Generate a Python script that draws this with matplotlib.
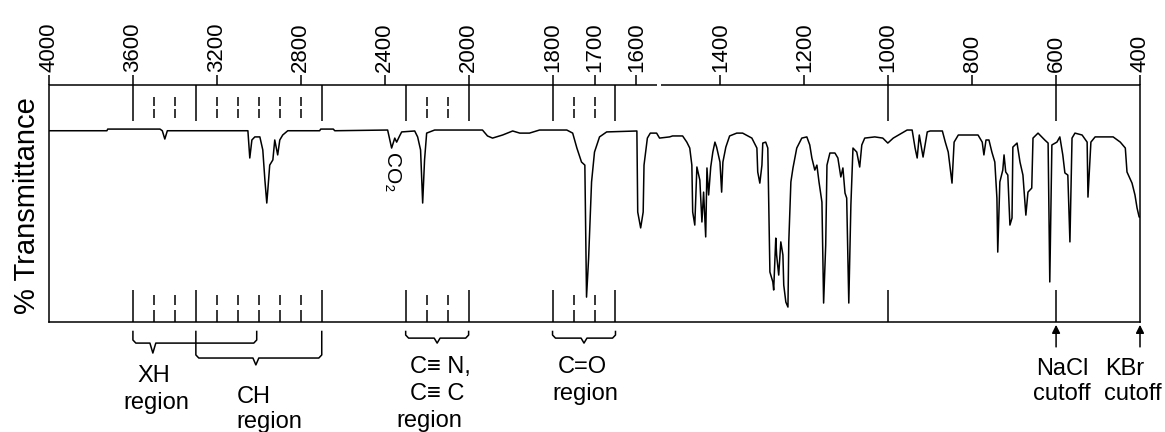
import numpy as np
import matplotlib
matplotlib.use('Agg')
from matplotlib import pyplot as plt

plt.rcParams['font.family'] = ['Liberation Sans', 'DejaVu Sans']

# spectrum: wavenumber (cm-1) and % transmittance
wavenumber = [4000, 3724, 3720, 3471, 3460, 3448, 3436, 3057, 3052, 3043, 3033, 3019, 2995, 2981,
              2971, 2962, 2957, 2948, 2933, 2924, 2910, 2900, 2886, 2862, 2710, 2705, 2645, 2638,
              2386, 2367, 2352, 2343, 2329, 2319, 2257, 2243, 2229, 2219, 2210, 2200, 2162, 1967,
              1955, 1943, 1919, 1895, 1878, 1855, 1831, 1766, 1752, 1742, 1731, 1723, 1719, 1714,
              1707, 1700, 1688, 1671, 1599, 1597, 1590, 1584, 1582, 1574, 1567, 1552, 1545, 1521,
              1514, 1490, 1480, 1473, 1468, 1466, 1461, 1456, 1449, 1444, 1440, 1435, 1432, 1428,
              1423, 1418, 1413, 1409, 1401, 1397, 1394, 1387, 1378, 1361, 1347, 1325, 1313, 1311,
              1306, 1301, 1299, 1292, 1287, 1282, 1275, 1273, 1268, 1266, 1261, 1256, 1251, 1249,
              1244, 1239, 1237, 1232, 1227, 1218, 1206, 1194, 1187, 1182, 1175, 1170, 1165, 1158,
              1154, 1149, 1146, 1139, 1127, 1120, 1113, 1108, 1103, 1099, 1094, 1089, 1084, 1075,
              1068, 1063, 1056, 1032, 1013, 1001, 988, 955, 943, 936, 931, 926, 919, 917, 907, 900,
              871, 864, 857, 848, 843, 833, 786, 776, 772, 767, 760, 753, 746, 741, 739, 734, 727,
              724, 720, 715, 710, 705, 703, 693, 686, 679, 672, 667, 658, 655, 643, 627, 619, 615,
              610, 598, 591, 584, 579, 572, 567, 562, 555, 538, 526, 524, 517, 507, 464, 447, 435,
              431, 419, 412, 407, 402, 400]
transmittance = [80.7, 80.7, 81.4, 81.4, 80.7, 77.2, 80.7, 80.7, 80.7, 69.2, 76.8, 78.1, 78.1, 72.6,
                 59.9, 50.2, 55.7, 66.2, 68.4, 76.8, 70.5, 76.8, 78.9, 80.7, 80.7, 81.4, 81.4, 80.7,
                 81.0, 73.4, 77.6, 75.9, 78.5, 80.2, 80.6, 78.1, 72.6, 50.2, 68.4, 79.7, 81.0, 81.0,
                 78.5, 77.6, 78.9, 80.6, 79.7, 79.7, 81.0, 81.0, 79.7, 73.4, 67.5, 66.2, 10.5, 27.0,
                 59.1, 71.7, 78.1, 80.2, 80.6, 46.4, 39.7, 46.4, 66.2, 77.6, 79.7, 79.7, 77.6, 78.1,
                 78.5, 78.5, 75.9, 73.4, 66.2, 46.4, 40.9, 65.4, 59.9, 42.2, 54.8, 35.9, 65.0, 53.6,
                 65.4, 71.7, 75.9, 73.8, 67.5, 54.8, 67.5, 73.8, 78.5, 79.7, 79.7, 77.6, 73.4, 63.3,
                 58.6, 66.2, 75.5, 75.9, 73.4, 21.1, 16.9, 13.5, 35.4, 28.3, 19.8, 33.8, 28.3, 15.6,
                 8.4, 6.3, 33.8, 59.1, 65.0, 73.4, 77.6, 78.1, 74.7, 69.2, 64.1, 66.2, 59.1, 50.6,
                 8.0, 32.5, 66.2, 71.3, 71.3, 69.2, 61.2, 65.0, 54.4, 52.3, 8.0, 49.4, 73.4, 71.7,
                 65.4, 74.7, 77.6, 78.1, 77.6, 75.5, 77.6, 81.0, 81.0, 73.4, 69.2, 78.9, 71.7, 69.6,
                 80.2, 80.6, 80.6, 75.9, 71.7, 58.6, 75.9, 78.9, 78.9, 75.9, 70.5, 76.8, 76.8, 71.7,
                 67.5, 52.3, 29.5, 59.1, 64.1, 70.5, 63.3, 62.0, 40.9, 43.9, 73.8, 75.5, 67.5, 62.0,
                 45.1, 54.8, 56.5, 77.6, 79.7, 76.8, 75.5, 16.9, 74.7, 75.9, 78.1, 70.5, 62.9, 62.0,
                 33.8, 77.6, 79.7, 78.9, 75.9, 52.7, 75.9, 78.1, 78.1, 75.9, 73.4, 63.3, 58.6, 53.6,
                 48.1, 44.3, 44.3]

tick_values = [4000, 3600, 3200, 2800, 2400, 2000, 1800, 1700, 1600, 1400, 1200, 1000, 800, 600, 400]
solid_marks = [3600, 3300, 2700, 2300, 2000, 1800, 1650, 1000, 600]
dashed_marks = [3500, 3400, 3200, 3100, 3000, 2900, 2800, 2200, 2100, 1750, 1700]

# region braces: left edge, right edge, point, level of the bar, depth of the point
braces = [(3600, 3010, 3505, -8.9, -13.1),
          (3300, 2700, 3014, -15.2, -18.1),
          (2300, 2000, 2150, -6.8, -8.9),
          (1800, 1650, 1725, -6.8, -8.9)]

# labels under the axis: text, wavenumber of its centre, baseline
region_labels = [('XH', 3500, -25.3), ('region', 3490, -36.7),
                 ('CH', 3024, -34.2), ('region', 2952, -44.7),
                 ('C\u2261 N,', 2133, -21.5), ('C\u2261 C', 2148, -32.9), ('region', 2186, -44.3),
                 ('C=O', 1728, -21.5), ('region', 1721, -32.9),
                 ('NaCl', 586, -22.4), ('cutoff', 586, -32.9),
                 ('KBr', 436, -22.4), ('cutoff', 417, -32.9)]
cutoffs = [600, 400]

LW = 1.1


def fwd(w):
    w = np.asarray(w, dtype=float)
    # the chart doubles its scale below 2000 cm-1
    return np.where(w >= 2000, (w - 2000) * 0.5, w - 2000)


def inv(u):
    u = np.asarray(u, dtype=float)
    return np.where(u >= 0, u * 2 + 2000, u + 2000)


def draw_brace(ax, w0, w1, wa, y_bar, y_point, y_top=-4.0, r=7):
    u0, u1, ua = fwd(w0), fwd(w1), fwd(wa)
    us = [u0, u0, u0 - r, ua + r, ua, ua - r, u1 + r, u1, u1]
    ys = [y_top, y_bar + 1.3, y_bar, y_bar, y_point, y_bar, y_bar, y_bar + 1.3, y_top]
    ax.plot(inv(us), ys, color='k', lw=LW, clip_on=False, solid_joinstyle='round')


fig = plt.figure(figsize=(11.65, 4.32), dpi=100)
ax = fig.add_axes([49 / 1165, 110 / 432, 1091 / 1165, 237 / 432])
ax.set_xscale('function', functions=(fwd, inv))
ax.set_xlim(4000, 400)
ax.set_ylim(0, 100)

ax.plot(wavenumber, transmittance, color='k', lw=LW)

for s in ['left', 'right', 'bottom']:
    ax.spines[s].set_linewidth(LW)
ax.spines['top'].set_visible(False)
# top line has a small break near 1545
ax.plot([4000, 1551], [100, 100], color='k', lw=LW, clip_on=False, solid_capstyle='butt')
ax.plot([1541, 400], [100, 100], color='k', lw=LW, clip_on=False, solid_capstyle='butt')

ax.xaxis.tick_top()
ax.set_xticks(tick_values)
ax.set_xticklabels([str(v) for v in tick_values])
ax.xaxis.set_minor_locator(matplotlib.ticker.NullLocator())
ax.tick_params(axis='x', direction='out', length=7, width=LW, labelrotation=90,
               labelsize=16, pad=2)
ax.set_yticks([])

# region guides hanging from the top and standing on the bottom
ax.vlines(solid_marks, 84.8, 100, color='k', lw=LW)
ax.vlines(solid_marks, 0, 13.5, color='k', lw=LW)
for y0, y1 in [(91.1, 94.9), (86.1, 89.9), (7.2, 11.4), (0, 5.1)]:
    ax.vlines(dashed_marks, y0, y1, color='k', lw=LW)

for w0, w1, wa, yb, yp in braces:
    draw_brace(ax, w0, w1, wa, yb, yp)

for text, w, y in region_labels:
    ax.text(w, y, text, ha='center', va='baseline', fontsize=17)

for w in cutoffs:
    ax.annotate('', xy=(w, -1.2), xytext=(w, -10.5), annotation_clip=False,
                arrowprops=dict(arrowstyle='-|>', color='k', lw=LW, mutation_scale=12,
                                shrinkA=0, shrinkB=0))

ax.text(2367, 63, 'CO\u2082', rotation=270, ha='center', va='center', fontsize=15)

fig.text(27 / 1165, 1 - 206 / 432, '% Transmittance', rotation=90,
         ha='center', va='center', fontsize=21)

fig.savefig('out.png', dpi=100)
